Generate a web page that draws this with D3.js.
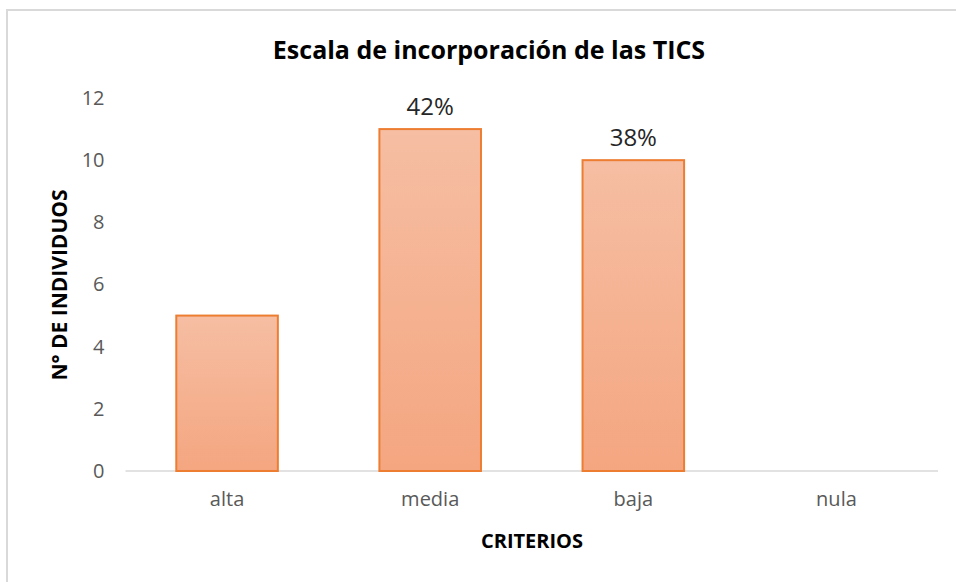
<!DOCTYPE html>
<html><head><meta charset="utf-8">
<script src="https://cdn.jsdelivr.net/npm/d3@7"></script>
<style>body{margin:0;background:#fff;}svg{display:block;}</style>
</head><body>
<svg id="chart" width="956" height="582"></svg>
<script>
const categories = ["alta", "media", "baja", "nula"];
const values = [5, 11, 10, 0];
const barLabels = ["", "42%", "38%", ""];
const yTicks = [0, 2, 4, 6, 8, 10, 12];
const title = "Escala de incorporación de las TICS";
const yTitle = "N° DE INDIVIDUOS";
const xTitle = "CRITERIOS";

const svg = d3.select("#chart");
const font = "'Open Sans', sans-serif";
const W = 956, H = 582;
const m = {left: 125.5, right: 18, top: 98, bottom: 111};

// frame
svg.append("rect").attr("x", 7).attr("y", 10).attr("width", 1000).attr("height", 1000)
  .attr("fill", "none").attr("stroke", "#d9d9d9").attr("stroke-width", 2);

const defs = svg.append("defs");
const g = defs.append("linearGradient").attr("id", "grad").attr("x1", 0).attr("y1", 0).attr("x2", 0).attr("y2", 1);
g.append("stop").attr("offset", "0%").attr("stop-color", "#f6bea3");
g.append("stop").attr("offset", "100%").attr("stop-color", "#f4a680");

const x = d3.scaleBand().domain(categories).range([m.left, W - m.right]).paddingInner(0.5).paddingOuter(0.25);
const y = d3.scaleLinear().domain([0, 12]).range([H - m.bottom, m.top]);

// baseline
svg.append("line").attr("x1", m.left).attr("x2", W - m.right)
  .attr("y1", y(0)).attr("y2", y(0)).attr("stroke", "#d9d9d9").attr("stroke-width", 1.5);

// y axis
const yAxis = d3.axisLeft(y).tickValues(yTicks).tickSize(0).tickPadding(0);
const ya = svg.append("g").attr("transform", `translate(${m.left - 21},0)`).call(yAxis);
ya.select(".domain").remove();
ya.selectAll("text").attr("font-family", font).attr("font-size", 20).attr("fill", "#595959");

// x axis
const xAxis = d3.axisBottom(x).tickSize(0).tickPadding(0);
const xa = svg.append("g").attr("transform", `translate(0,${y(0) + 21})`).call(xAxis);
xa.select(".domain").remove();
xa.selectAll("text").attr("font-family", font).attr("font-size", 20).attr("fill", "#595959");

// bars
const rows = values.map((v, i) => ({c: categories[i], v, l: barLabels[i]}));
svg.selectAll("rect.bar").data(rows.filter(d => d.v > 0))
  .enter().append("rect").attr("class", "bar")
  .attr("x", d => x(d.c)).attr("width", x.bandwidth())
  .attr("y", d => y(d.v)).attr("height", d => y(0) - y(d.v))
  .attr("fill", "url(#grad)").attr("stroke", "#ed7d31").attr("stroke-width", 2);

svg.selectAll("text.lbl").data(rows.filter(d => d.l))
  .enter().append("text").attr("class", "lbl")
  .attr("x", d => x(d.c) + x.bandwidth() / 2).attr("y", d => y(d.v) - 14)
  .attr("text-anchor", "middle").attr("font-family", font).attr("font-size", 24).attr("fill", "#262626")
  .text(d => d.l);

// titles
svg.append("text").attr("x", 489).attr("y", 59).attr("text-anchor", "middle")
  .attr("font-family", font).attr("font-weight", "bold").attr("font-size", 25).attr("fill", "#000")
  .text(title);
svg.append("text").attr("x", 532).attr("y", 548).attr("text-anchor", "middle")
  .attr("font-family", font).attr("font-weight", "bold").attr("font-size", 20).attr("fill", "#000")
  .text(xTitle);
svg.append("text").attr("transform", `translate(67,285) rotate(-90)`).attr("text-anchor", "middle")
  .attr("font-family", font).attr("font-weight", "bold").attr("font-size", 21).attr("fill", "#000")
  .text(yTitle);
</script>
</body></html>
